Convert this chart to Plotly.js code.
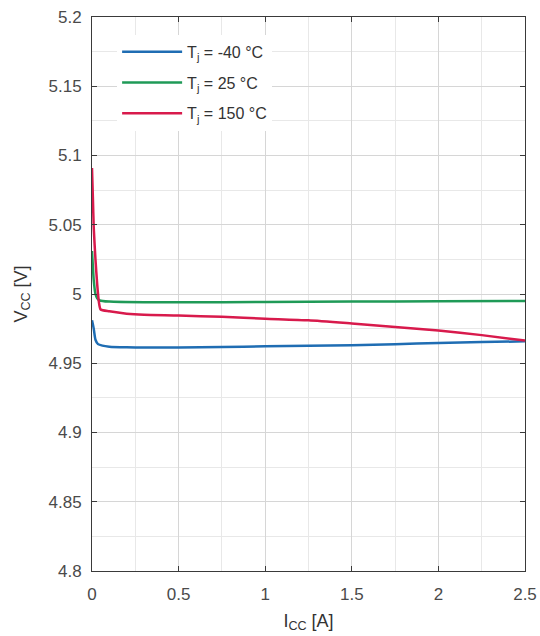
<!DOCTYPE html>
<html>
<head>
<meta charset="utf-8">
<script src="https://cdn.plot.ly/plotly-3.0.1.min.js"></script>
<style>html,body{margin:0;padding:0;background:#fff;}#chart{width:540px;height:636px;}</style>
</head>
<body>
<div id="chart"></div>
<script>
// Series data
var xBlue = [0, 0.01, 0.02, 0.035, 0.06, 0.1, 0.2, 0.3, 0.5, 0.75, 1.0, 1.25, 1.5, 1.75, 2.0, 2.25, 2.5];
var yBlue = [4.981, 4.975, 4.967, 4.9638, 4.9627, 4.962, 4.9615, 4.9613, 4.9614, 4.9618, 4.9622, 4.9626, 4.963, 4.9638, 4.9647, 4.9653, 4.9658];

var xGreen = [0, 0.005, 0.01, 0.02, 0.03, 0.045, 0.1, 0.3, 0.5, 1.0, 1.5, 2.0, 2.5];
var yGreen = [5.031, 5.02, 5.01, 5.0, 4.997, 4.9953, 4.9945, 4.994, 4.994, 4.9942, 4.9945, 4.9948, 4.995];

var xRed = [0, 0.005, 0.01, 0.02, 0.03, 0.04, 0.05, 0.1, 0.2, 0.3, 0.5, 0.75, 1.0, 1.25, 1.5, 1.75, 2.0, 2.25, 2.5];
var yRed = [5.091, 5.07, 5.048, 5.025, 5.007, 4.994, 4.9888, 4.9875, 4.9858, 4.985, 4.9845, 4.9835, 4.9822, 4.981, 4.9787, 4.9762, 4.9737, 4.9703, 4.9664];

var seriesNames = ["T<sub>j</sub> = -40 \u00b0C", "T<sub>j</sub> = 25 \u00b0C", "T<sub>j</sub> = 150 \u00b0C"];
var seriesColors = ["#1f6db3", "#1f9a57", "#d81a4c"];

var xTicks = [0, 0.5, 1, 1.5, 2, 2.5];
var xTickText = ["0", "0.5", "1", "1.5", "2", "2.5"];
var yTicks = [4.8, 4.85, 4.9, 4.95, 5, 5.05, 5.1, 5.15, 5.2];
var yTickText = ["4.8", "4.85", "4.9", "4.95", "5", "5.05", "5.1", "5.15", "5.2"];

var xs = [xBlue, xGreen, xRed];
var ys = [yBlue, yGreen, yRed];
var traces = [];
for (var i = 0; i < 3; i++) {
  traces.push({
    x: xs[i], y: ys[i], type: 'scatter', mode: 'lines',
    name: seriesNames[i], legendgroup: 'g' + i,
    line: {color: seriesColors[i], width: 2.5, shape: 'spline', smoothing: 0.6}
  });
}

var fontFam = 'Liberation Sans, Arial, sans-serif';
var axisCommon = {
  showline: true, linecolor: '#3a3a3a', linewidth: 1,
  mirror: 'ticks', ticks: 'inside', ticklen: 5, tickcolor: '#3a3a3a',
  showgrid: true, gridcolor: '#d6d6d6', gridwidth: 1,
  zeroline: false,
  tickfont: {family: fontFam, size: 17, color: '#4a4a4a'}
};

var layout = {
  width: 540, height: 636,
  margin: {l: 92, r: 15, t: 17, b: 65},
  paper_bgcolor: '#fff', plot_bgcolor: '#fff',
  showlegend: true,
  xaxis: Object.assign({}, axisCommon, {
    range: [0, 2.5], tickmode: 'array', tickvals: xTicks, ticktext: xTickText,
    ticklabelstandoff: 8,
    minor: {dtick: 0.25, showgrid: true, gridcolor: '#e8e8e8', ticks: ''},
    title: {text: 'I<sub>CC</sub> [A]', font: {family: fontFam, size: 18, color: '#333'}, standoff: 10}
  }),
  yaxis: Object.assign({}, axisCommon, {
    range: [4.8, 5.2], tickmode: 'array', tickvals: yTicks, ticktext: yTickText,
    ticklabelstandoff: 6,
    minor: {dtick: 0.025, showgrid: true, gridcolor: '#e8e8e8', ticks: ''},
    title: {text: 'V<sub>CC</sub> [V]', font: {family: fontFam, size: 18, color: '#333'}, standoff: 16}
  }),
  legend: {
    x: 0.058, y: 0.968, xanchor: 'left', yanchor: 'top',
    bgcolor: '#fff', borderwidth: 0,
    font: {family: fontFam, size: 16, color: '#333'},
    tracegroupgap: 7, itemwidth: 60
  }
};

Plotly.newPlot('chart', traces, layout, {displayModeBar: false, staticPlot: true});
</script>
</body>
</html>
